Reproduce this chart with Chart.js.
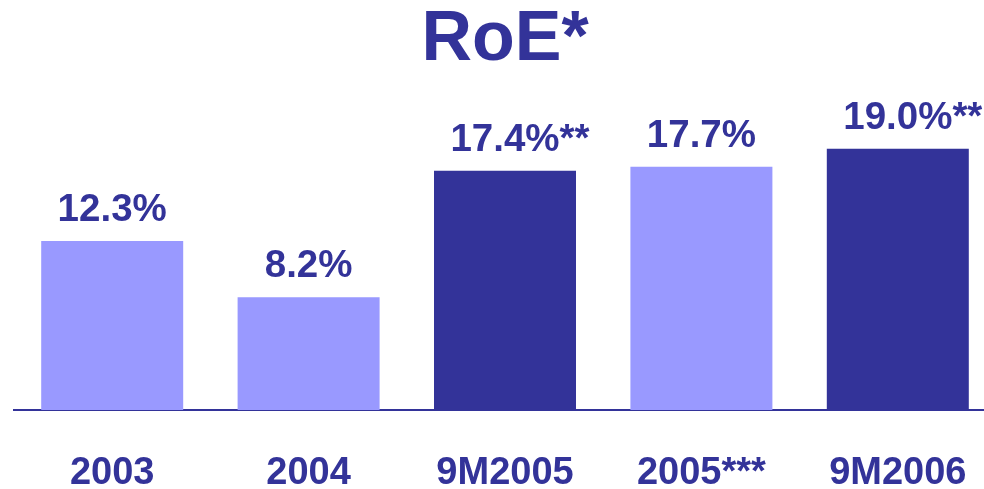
<!DOCTYPE html>
<html>
<head>
<meta charset="utf-8">
<script src="https://cdn.jsdelivr.net/npm/chart.js@4"></script>
<style>
  body { margin: 0; overflow: hidden; background: #fff; }
  #wrap { width: 1000px; height: 489px; }
</style>
</head>
<body>
<div id="wrap"><canvas id="roe-chart" width="1000" height="489"></canvas></div>
<script>
// datos
const categories = ["2003", "2004", "9M2005", "2005***", "9M2006"];
const roeValues = [12.3, 8.2, 17.4, 17.7, 19.0];
const labelSuffixes = ["", "", "**", "", "**"];
const barColors = ["#9999FF", "#9999FF", "#333399", "#9999FF", "#333399"];

const navy = "#333399";
const fontFamily = "'Liberation Sans', Arial, sans-serif";

// etiquetas encima de cada barra, el sufijo ** queda colgando a la derecha
const valueLabels = {
  id: "valueLabels",
  afterDatasetsDraw(chart) {
    const ctx = chart.ctx;
    const meta = chart.getDatasetMeta(0);
    ctx.save();
    ctx.font = "bold 38.5px " + fontFamily;
    ctx.fillStyle = navy;
    ctx.textBaseline = "alphabetic";
    meta.data.forEach((bar, i) => {
      const main = roeValues[i].toFixed(1) + "%";
      const w = ctx.measureText(main).width;
      const x0 = bar.x - w / 2;
      const y = bar.y - 20;
      ctx.textAlign = "left";
      ctx.fillText(main, x0, y);
      if (labelSuffixes[i]) {
        ctx.fillText(labelSuffixes[i], x0 + w, y);
      }
    });
    ctx.restore();
  },
};

const container = document.querySelector("#roe-chart").getContext("2d");

const roeChart = new Chart(container, {
  type: "bar",
  data: {
    labels: categories,
    datasets: [
      {
        label: "RoE",
        data: roeValues,
        backgroundColor: barColors,
        borderWidth: 0,
        barPercentage: 0.723,
        categoryPercentage: 1,
      },
    ],
  },
  options: {
    responsive: false,
    animation: false,
    layout: { padding: { left: 14, right: 4, top: 0, bottom: 0 } },
    plugins: {
      legend: { display: false },
      tooltip: { enabled: false },
      title: {
        display: true,
        text: "RoE*",
        color: navy,
        font: { family: fontFamily, size: 70, weight: "bold", lineHeight: 1 },
        padding: { top: 6, bottom: 4 },
      },
    },
    scales: {
      x: {
        grid: { display: false, drawTicks: false },
        border: { display: true, color: navy, width: 2 },
        ticks: {
          color: navy,
          padding: 45,
          font: { family: fontFamily, size: 38, weight: "bold", lineHeight: 1 },
        },
        // altura fija del eje y sin relleno lateral extra
        afterFit(scale) {
          scale.height = 79;
          scale.paddingLeft = 0;
          scale.paddingRight = 0;
        },
      },
      y: {
        display: false,
        min: 0,
        max: 24,
      },
    },
  },
  plugins: [valueLabels],
});
</script>
</body>
</html>
